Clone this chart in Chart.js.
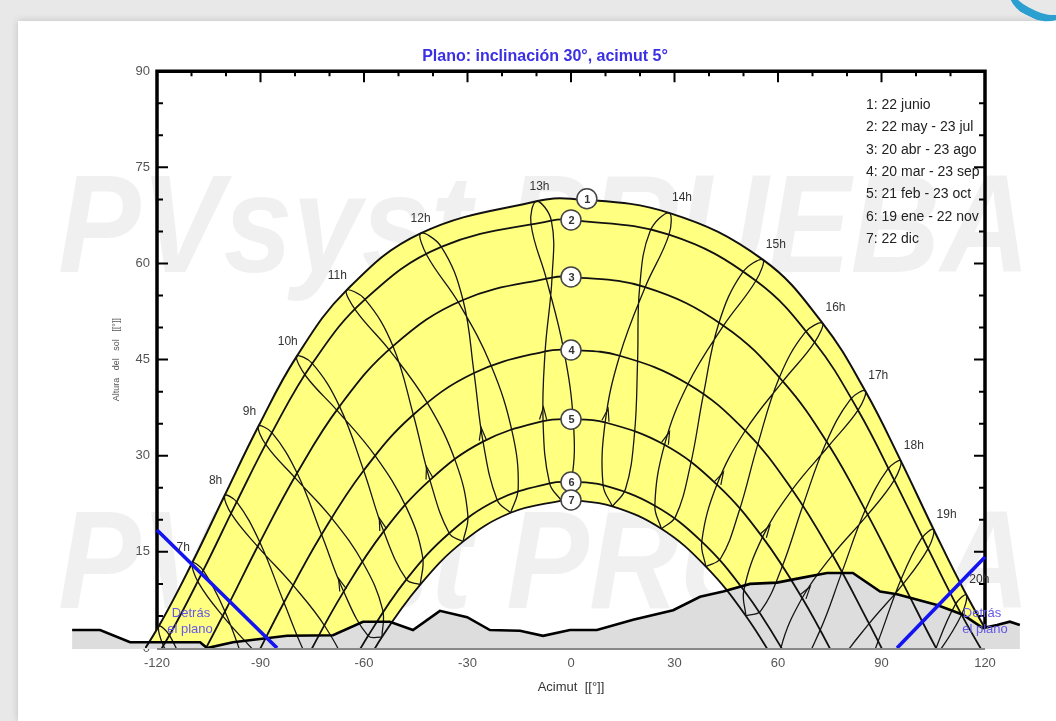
<!DOCTYPE html>
<html>
<head>
<meta charset="utf-8">
<script src="https://cdn.jsdelivr.net/npm/chart.js@4.4.1/dist/chart.umd.min.js"></script>
<style>
html, body { margin: 0; padding: 0; width: 1056px; height: 721px; overflow: hidden; background: #e8e8e8; }
#panel { position: absolute; left: 18px; top: 21px; width: 1038px; height: 700px; background: #fff; box-shadow: 0 0 7px rgba(0,0,0,0.18); }
#corner { position: absolute; left: 1000px; top: -14px; width: 72px; height: 24px; border-bottom: 8px solid #2a9fd0; border-radius: 0 0 40px 40px; transform: rotate(26deg); }
canvas { position: absolute; left: 0; top: 0; }
</style>
</head>
<body>
<div id="panel"></div>
<div id="corner"></div>
<canvas id="chart" width="1056" height="721"></canvas>
<script>
// sun positions [acimut, altura] for each hour 5h..21h (null = far below horizon)
const jun22 = [[-130.0,-5.5],[-119.5,3.4],[-109.8,13.3],[-100.4,23.8],[-90.6,34.6],[-79.5,45.5],[-65.1,55.8],[-43.6,64.7],[-10.0,69.7],[28.4,67.9],[55.6,60.6],[72.9,50.7],[85.3,40.1],[95.6,29.2],[105.1,18.5],[114.6,8.3],[124.6,-1.2]];
const may22 = [[-127.0,-7.2],[-116.4,2.0],[-106.6,12.1],[-96.9,22.8],[-86.7,33.6],[-75.0,44.4],[-59.7,54.4],[-37.6,62.6],[-5.7,66.7],[28.4,64.5],[53.6,57.3],[70.6,47.7],[83.2,37.1],[93.7,26.2],[103.5,15.5],[113.2,5.2],[123.5,-4.4]];
const jul23 = [[-128.8,-8.9],[-118.0,0.2],[-108.0,10.2],[-98.3,20.8],[-88.3,31.6],[-76.8,42.4],[-62.3,52.6],[-41.7,61.2],[-11.6,66.2],[22.9,65.0],[49.6,58.5],[67.8,49.2],[81.0,38.8],[91.8,27.9],[101.6,17.1],[111.3,6.7],[121.5,-3.0]];
const apr20 = [[-121.9,-14.5],[-110.7,-4.8],[-100.3,5.7],[-90.2,16.5],[-79.4,27.3],[-67.1,37.7],[-51.6,47.1],[-31.3,54.3],[-5.5,57.8],[21.5,56.3],[44.2,50.3],[61.4,41.6],[74.8,31.6],[86.0,20.8],[96.3,10.0],[106.5,-0.7],[117.2,-10.8]];
const aug23 = [[-122.4,-15.3],[-111.2,-5.6],[-100.8,4.9],[-90.6,15.7],[-79.9,26.5],[-67.7,37.0],[-52.5,46.4],[-32.5,53.8],[-7.1,57.5],[19.9,56.3],[42.8,50.6],[60.3,42.1],[73.9,32.0],[85.2,21.4],[95.5,10.5],[105.7,-0.2],[116.4,-10.3]];
const mar20 = [null,[-104.2,-14.5],[-93.6,-3.8],[-83.2,7.1],[-72.3,17.7],[-60.1,27.7],[-45.7,36.4],[-28.1,42.9],[-7.5,46.3],[14.1,45.6],[33.9,41.2],[50.5,33.9],[64.1,24.7],[75.8,14.5],[86.4,3.8],[96.8,-7.1],[107.7,-17.7]];
const sep23 = [null,[-101.5,-11.8],[-91.0,-1.0],[-80.6,9.8],[-69.4,20.3],[-56.8,30.0],[-41.6,38.2],[-23.2,44.1],[-2.1,46.5],[19.3,44.8],[38.4,39.6],[54.1,31.7],[67.2,22.2],[78.5,11.8],[89.0,1.0],[99.4,-9.8],null];
const feb21 = [null,null,[-86.7,-12.3],[-76.5,-1.5],[-65.9,8.8],[-54.3,18.2],[-40.9,26.2],[-25.5,32.2],[-8.1,35.4],[9.9,35.2],[27.1,31.7],[42.3,25.5],[55.5,17.3],[67.0,7.8],[77.5,-2.6],[87.7,-13.4],null];
const oct23 = [null,[-91.6,-18.2],[-81.4,-7.3],[-71.1,3.2],[-60.1,13.1],[-47.7,21.9],[-33.4,29.0],[-17.0,33.6],[0.7,35.2],[18.4,33.4],[34.6,28.5],[48.7,21.3],[61.0,12.4],[71.9,2.4],[82.2,-8.2],[92.4,-19.0],null];
const jan19 = [null,null,[-78.6,-18.3],[-69.0,-7.8],[-58.8,1.9],[-47.7,10.7],[-35.3,17.9],[-21.4,23.1],[-6.2,25.7],[9.3,25.4],[24.3,22.2],[37.9,16.6],[50.1,9.0],[60.9,0.1],[70.9,-9.9],null,null];
const nov22 = [null,null,[-74.9,-13.6],[-65.1,-3.4],[-54.6,6.0],[-43.0,14.2],[-29.9,20.7],[-15.3,24.9],[0.2,26.3],[15.8,24.8],[30.3,20.5],[43.4,14.0],[55.0,5.8],[65.4,-3.7],[75.2,-13.9],null,null];
const dec22 = [null,null,[-74.3,-17.9],[-64.8,-7.7],[-54.8,1.7],[-43.7,9.9],[-31.3,16.6],[-17.5,21.1],[-2.8,23.0],[12.0,22.1],[26.2,18.6],[39.1,12.7],[50.7,5.0],[61.1,-4.0],[70.8,-13.9],null,null];

const firstHour = 5;
const hourLines = [6,7,8,9,10,11,12,13,14,15,16,17,18,19,20];
const hourLabelHours = [7,8,9,10,11,12,13,14,15,16,17,18,19,20];
const arrowHours = [9,10,11,12,13,14,15,16,17,18];

// curves 1..7 and the noon altitude of each (circle markers)
const curveDates = [jun22, may22, apr20, mar20, feb21, jan19, dec22];
const noonAlt = [70.1, 66.8, 57.9, 46.5, 35.7, 25.9, 23.1];
const circleAz = [4.6, 0, 0, 0, 0, 0, 0];
const loopDates = [dec22, jan19, feb21, mar20, apr20, may22, jun22, jul23, aug23, sep23, oct23, nov22, dec22];

const legendLines = ['1: 22 junio', '2: 22 may - 23 jul', '3: 20 abr - 23 ago', '4: 20 mar - 23 sep', '5: 21 feb - 23 oct', '6: 19 ene - 22 nov', '7: 22 dic'];

// horizon profile [acimut, altura]
const horizon = [[-144.6,2.8],[-136.5,2.8],[-127.8,0.9],[-107.5,0.9],[-105.5,0.0],[-98.0,0.9],[-82.3,1.9],[-69.0,2.0],[-60.3,4.1],[-52.5,4.1],[-45.8,2.8],[-38.0,5.8],[-30.1,4.8],[-23.5,2.8],[-14.8,2.7],[-8.1,1.9],[-0.3,2.8],[7.5,2.8],[18.0,4.4],[29.6,5.9],[37.4,8.0],[44.1,8.8],[51.9,10.0],[59.7,10.2],[66.4,10.9],[74.2,11.7],[81.7,11.7],[89.6,8.8],[94.5,8.4],[106.1,6.7],[113.6,5.2],[119.4,3.1],[123.5,3.6],[127.2,4.1],[130.1,3.6]];

// "Detrás el plano" limits
const behindLeft = [[-120, 18.4], [-85.2, 0]];
const behindRight = [[94.5, 0], [120, 14.2]];

const xTicks = [-120, -90, -60, -30, 0, 30, 60, 90, 120];
const yTicks = [0, 15, 30, 45, 60, 75, 90];

const toXY = p => ({ x: p[0], y: p[1] });

let datasets = [];

curveDates.forEach((arr, k) => {
    let pts = arr.filter(p => p).map(toXY);
    pts.push({ x: 0, y: noonAlt[k] });
    pts.sort((a, b) => a.x - b.x);
    datasets.push({
        data: pts,
        borderColor: '#111',
        borderWidth: k === 0 ? 2 : 1.8,
        tension: 0.4,
        pointRadius: 0,
        order: 3,
        clip: { left: 12, top: 0, right: 0, bottom: 0 }
    });
});

hourLines.forEach(h => {
    let pts = loopDates.map(d => d[h - firstHour]).filter(p => p).map(toXY);
    datasets.push({
        data: pts,
        borderColor: '#151515',
        borderWidth: 1.3,
        tension: 0.4,
        pointRadius: 0,
        order: 4,
        clip: { left: 12, top: 0, right: 0, bottom: 0 }
    });
});

const horizonIndex = datasets.length;
datasets.push({
    data: horizon.map(toXY),
    borderColor: '#000',
    borderWidth: 2.6,
    tension: 0,
    pointRadius: 0,
    order: 2,
    clip: false
});

[behindLeft, behindRight].forEach(line => {
    datasets.push({
        data: line.map(toXY),
        borderColor: '#1414f0',
        borderWidth: 3.6,
        tension: 0,
        pointRadius: 0,
        order: 1
    });
});

const circleIndex = datasets.length;
datasets.push({
    data: circleAz.map((az, k) => ({ x: az, y: noonAlt[k] })),
    showLine: false,
    pointRadius: 10,
    pointBackgroundColor: '#fff',
    pointBorderColor: '#444',
    pointBorderWidth: 1.5,
    order: 0,
    clip: false
});

const sunPlugin = {
    id: 'sunPath',
    beforeDraw(chart) {
        const ctx = chart.ctx;
        ctx.save();
        ctx.fillStyle = 'rgba(0,0,0,0.06)';
        ctx.font = 'italic bold 140px Arial';
        ctx.textBaseline = 'alphabetic';
        ctx.fillText('PVsyst PRUEBA', 58, 272, 972);
        ctx.fillText('PVsyst PRUEBA', 58, 608, 972);
        ctx.restore();
    },
    beforeDatasetsDraw(chart) {
        const { ctx, chartArea: a, scales: { x, y } } = chart;

        // frame and inner ticks
        ctx.save();
        ctx.strokeStyle = '#000';
        ctx.lineWidth = 3.5;
        ctx.beginPath();
        ctx.moveTo(a.left, a.bottom);
        ctx.lineTo(a.left, a.top);
        ctx.lineTo(a.right, a.top);
        ctx.lineTo(a.right, a.bottom);
        ctx.stroke();
        ctx.lineWidth = 2;
        ctx.beginPath();
        for (let v = -110; v <= 110; v += 10) {
            const px = x.getPixelForValue(v);
            ctx.moveTo(px, a.top);
            ctx.lineTo(px, a.top + (v % 30 === 0 ? 11 : 5));
        }
        for (let v = 5; v < 90; v += 5) {
            const py = y.getPixelForValue(v);
            const len = v % 15 === 0 ? 11 : 6;
            ctx.moveTo(a.left, py);
            ctx.lineTo(a.left + len, py);
            ctx.moveTo(a.right, py);
            ctx.lineTo(a.right - len, py);
        }
        ctx.stroke();
        ctx.restore();

        // yellow zone between curve 1 and curve 7
        const yb = y.getPixelForValue(0);
        const outer = chart.getDatasetMeta(0).dataset;
        const inner = chart.getDatasetMeta(6).dataset;
        outer.updateControlPoints(a);
        inner.updateControlPoints(a);
        ctx.save();
        ctx.beginPath();
        ctx.rect(0, a.top, chart.width, yb - a.top);
        ctx.clip();
        ctx.beginPath();
        outer.path(ctx);
        let op = outer.points;
        ctx.lineTo(op[op.length - 1].x, yb + 60);
        ctx.lineTo(op[0].x, yb + 60);
        ctx.closePath();
        inner.path(ctx);
        let ip = inner.points;
        ctx.lineTo(ip[ip.length - 1].x, yb + 60);
        ctx.lineTo(ip[0].x, yb + 60);
        ctx.closePath();
        ctx.fillStyle = 'rgb(255,255,128)';
        ctx.fill('evenodd');
        ctx.restore();

        // far shadings (horizon)
        const hz = chart.getDatasetMeta(horizonIndex).dataset;
        const hp = hz.points;
        ctx.save();
        ctx.beginPath();
        hz.path(ctx);
        ctx.lineTo(hp[hp.length - 1].x, yb + 1);
        ctx.lineTo(hp[0].x, yb + 1);
        ctx.closePath();
        ctx.fillStyle = 'rgb(221,221,221)';
        ctx.fill();
        ctx.restore();
    },
    afterDatasetsDraw(chart) {
        const { ctx, chartArea: a, scales: { x, y } } = chart;
        ctx.save();

        // bottom axis line
        ctx.strokeStyle = '#888';
        ctx.lineWidth = 2;
        ctx.beginPath();
        ctx.moveTo(a.left, a.bottom + 1);
        ctx.lineTo(a.right, a.bottom + 1);
        ctx.stroke();

        // direction arrows on the hour loops (feb -> mar)
        ctx.strokeStyle = '#151515';
        ctx.lineWidth = 1.2;
        ctx.beginPath();
        arrowHours.forEach(h => {
            const p0 = feb21[h - firstHour], p1 = mar20[h - firstHour];
            const x0 = x.getPixelForValue(p0[0]), y0 = y.getPixelForValue(p0[1]);
            const x1 = x.getPixelForValue(p1[0]), y1 = y.getPixelForValue(p1[1]);
            const ang = Math.atan2(y1 - y0, x1 - x0);
            const tx = x0 + Math.cos(ang) * 14, ty = y0 + Math.sin(ang) * 14;
            ctx.moveTo(tx - 13 * Math.cos(ang - 0.28), ty - 13 * Math.sin(ang - 0.28));
            ctx.lineTo(tx, ty);
            ctx.lineTo(tx - 13 * Math.cos(ang + 0.28), ty - 13 * Math.sin(ang + 0.28));
        });
        ctx.stroke();

        // hour labels
        ctx.fillStyle = '#333';
        ctx.font = '12px Arial';
        ctx.textAlign = 'center';
        ctx.textBaseline = 'middle';
        hourLabelHours.forEach(h => {
            const p = jun22[h - firstHour];
            let dx = h <= 11 ? -9 : (h === 12 ? 0 : (h === 13 ? 3 : 13));
            ctx.fillText(h + 'h', x.getPixelForValue(p[0]) + dx, y.getPixelForValue(p[1]) - 15);
        });

        // circle numbers
        ctx.font = 'bold 11px Arial';
        chart.getDatasetMeta(circleIndex).data.forEach((pt, k) => {
            ctx.fillText(String(k + 1), pt.x + 0.5, pt.y + 1);
        });

        // legend of dates
        ctx.fillStyle = '#222';
        ctx.font = '14px Arial';
        ctx.textAlign = 'left';
        legendLines.forEach((t, k) => {
            ctx.fillText(t, 866, 105 + k * 22.4);
        });

        // behind the plane notes
        ctx.fillStyle = 'rgb(100,88,232)';
        ctx.font = '13px Arial';
        ctx.textAlign = 'center';
        ctx.fillText('Detrás', 191, 613);
        ctx.fillText('el plano', 190, 629);
        ctx.fillText('Detrás', 982, 613);
        ctx.fillText('el plano', 985, 629);
        ctx.restore();
    }
};

new Chart(document.getElementById('chart'), {
    type: 'line',
    data: { datasets: datasets },
    options: {
        responsive: false,
        animation: false,
        layout: { padding: { left: 105, right: 71, top: 40, bottom: 0 } },
        elements: { line: { capBezierPoints: false }, point: { radius: 0 } },
        plugins: {
            legend: { display: false },
            tooltip: { enabled: false },
            title: {
                display: true,
                text: 'Plano: inclinación 30°, acimut 5°',
                color: '#3b2fe3',
                font: { family: 'Arial', size: 16, weight: 'bold' },
                padding: { top: 7, bottom: 5 }
            }
        },
        scales: {
            x: {
                type: 'linear',
                bounds: 'data',
                // range set here so the off-axis horizon points are still drawn
                afterDataLimits: s => { s.min = xTicks[0]; s.max = xTicks[xTicks.length - 1]; },
                afterBuildTicks: s => { s.ticks = xTicks.map(v => ({ value: v })); },
                afterFit: s => { s.height = 73; },
                grid: { display: false, drawTicks: false },
                border: { display: false },
                ticks: { color: '#555', font: { family: 'Arial', size: 13 }, padding: 8, maxRotation: 0, autoSkip: false },
                title: { display: true, text: 'Acimut  [[°]]', color: '#333', font: { family: 'Arial', size: 13 }, padding: { top: 4, bottom: 26 } }
            },
            y: {
                type: 'linear',
                min: 0,
                max: 90,
                afterBuildTicks: s => { s.ticks = yTicks.map(v => ({ value: v })); },
                afterFit: s => { s.width = 52; },
                grid: { display: false, drawTicks: false },
                border: { display: false },
                ticks: { color: '#555', font: { family: 'Arial', size: 13 }, padding: 7 },
                title: { display: true, text: 'Altura   del   sol   [[°]]', color: '#555', font: { family: 'Arial', size: 9 }, padding: { top: 6, bottom: 0 } }
            }
        }
    },
    plugins: [sunPlugin]
});
</script>
</body>
</html>
